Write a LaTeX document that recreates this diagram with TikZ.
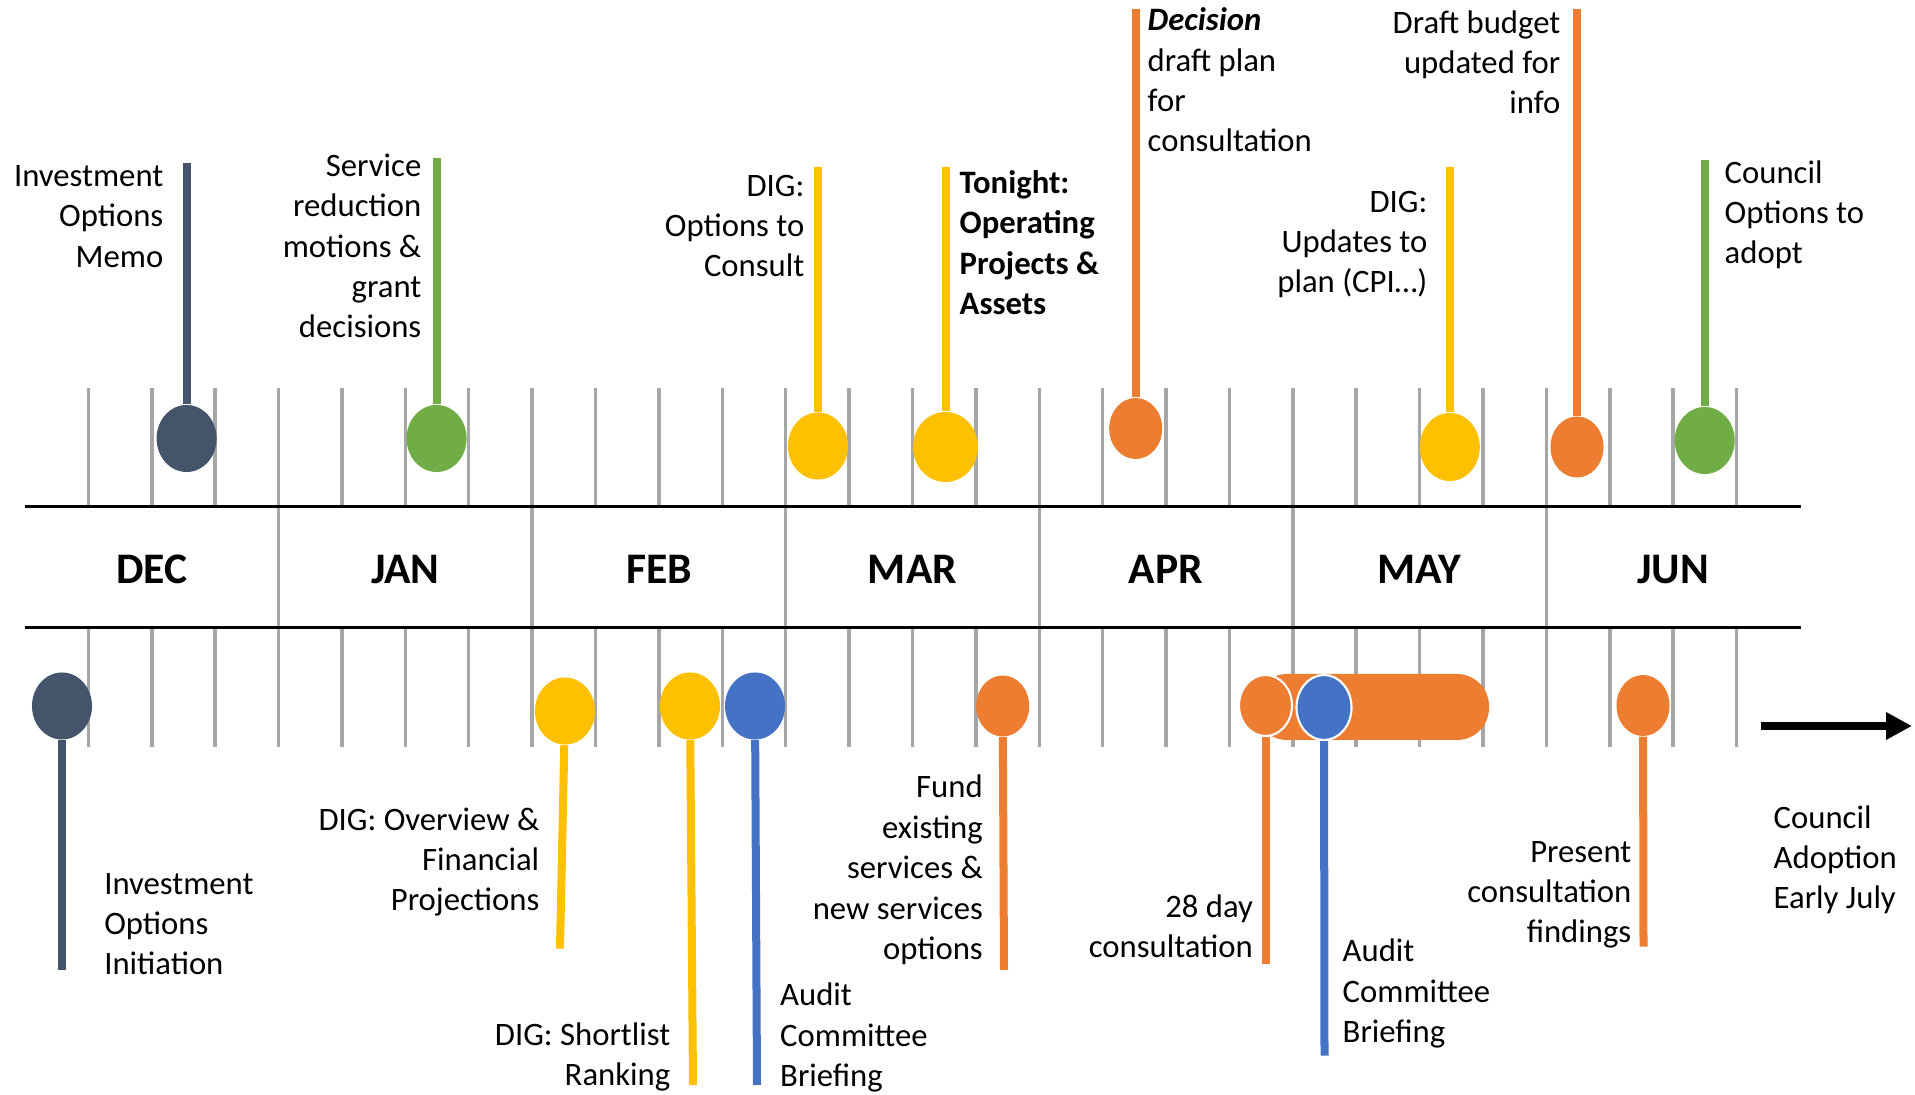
\documentclass[tikz,border=0pt]{standalone}
\usepackage{fontspec}
\setmainfont{Carlito}
\usepackage{tikz}
\usetikzlibrary{arrows.meta,shapes.geometric}

\definecolor{slate}{HTML}{44546A}
\definecolor{leaf}{HTML}{70AD47}
\definecolor{gold}{HTML}{FFC000}
\definecolor{tang}{HTML}{ED7D31}
\definecolor{azure}{HTML}{4472C4}
\definecolor{tickgray}{HTML}{A6A6A6}

\begin{document}
\begin{tikzpicture}[x=0.01cm,y=-0.01cm,
    weekline/.style={draw=tickgray,line width=0.035cm},
    axisline/.style={draw=black,line width=0.03cm},
    stem/.style={line width=0.08cm},
    bead/.style={ellipse,inner sep=0pt,minimum width=0.6cm,minimum height=0.67cm},
    sbead/.style={bead,minimum width=0.53cm,minimum height=0.61cm},
    ring/.style={draw=white,line width=0.6pt},
    txt/.style={inner sep=0pt,font=\fontsize{9.3}{11.5}\selectfont},
    txtR/.style={txt,align=right,anchor=base east},
    txtL/.style={txt,align=left,anchor=base west},
    txtB/.style={font=\fontsize{9.3}{11.5}\selectfont\bfseries},
    month/.style={inner sep=0pt,anchor=base,font=\fontsize{12.4}{14}\selectfont\bfseries}]
    \useasboundingbox (0,0) rectangle (1915,1095);

    \foreach \i in {1,...,27} {
      \draw[weekline] ({25+63.39*\i},388) -- ({25+63.39*\i},507);
      \draw[weekline] ({25+63.39*\i},628) -- ({25+63.39*\i},747);
    }
    \foreach \i in {4,8,...,24}
      \draw[weekline] ({25+63.39*\i},507) -- ({25+63.39*\i},628);
    \draw[axisline] (25,507) -- (1801,507);
    \draw[axisline] (25,628) -- (1801,628);
    \foreach \m [count=\k from 0] in {DEC,JAN,FEB,MAR,APR,MAY,JUN}
      \node[month] (\m) at ({25+63.39*(2+4*\k)},584) {\m};

    % above the line
    \node[bead,fill=slate] (memo) at (186.6,438.5) {};
    \node[bead,fill=leaf] (motions) at (436.6,438.5) {};
    \node[bead,fill=gold] (consult) at (818,446) {};
    \node[bead,fill=gold,minimum width=0.65cm,minimum height=0.7cm] (tonight) at (945.5,447) {};
    \node[sbead,fill=tang] (decision) at (1135.7,428.5) {};
    \node[bead,fill=gold,minimum height=0.68cm] (updates) at (1449.8,447) {};
    \node[sbead,fill=tang] (draft) at (1577,447) {};
    \node[bead,fill=leaf] (adopt) at (1704.7,440.5) {};

    \coordinate (memo-end) at (186.6,163);
    \coordinate (motions-end) at (436.6,158.5);
    \coordinate (consult-end) at (818,167);
    \coordinate (tonight-end) at (945.5,167);
    \coordinate (decision-end) at (1135.7,9.3);
    \coordinate (updates-end) at (1449.8,167);
    \coordinate (draft-end) at (1577,9.3);
    \coordinate (adopt-end) at (1704.7,160);

    \draw[stem,slate] (memo) -- (memo-end);
    \draw[stem,leaf] (motions) -- (motions-end);
    \draw[stem,gold] (consult) -- (consult-end);
    \draw[stem,gold] (tonight) -- (tonight-end);
    \draw[stem,tang] (decision) -- (decision-end);
    \draw[stem,gold] (updates) -- (updates-end);
    \draw[stem,tang] (draft) -- (draft-end);
    \draw[stem,leaf] (adopt) -- (adopt-end);

    % labels sit on the baseline of their last line
    \node[txtR] (memo-txt) at (164,267.4) {Investment\\Options\\Memo};
    \node[txtR] (motions-txt) at (422,338) {Service\\reduction\\motions \&\\grant\\decisions};
    \node[txtR] (consult-txt) at (805,277) {DIG:\\Options to\\Consult};
    \node[txtL,txtB] (tonight-txt) at (959,314.5) {Tonight:\\Operating\\Projects \&\\Assets};
    \node[txtL] (decision-txt) at (1147,152) {\textbf{\textit{Decision}}\\draft plan\\for\\consultation};
    \node[txtR] (updates-txt) at (1428,293) {DIG:\\Updates to\\plan (CPI…)};
    \node[txtR] (draft-txt) at (1561,114) {Draft budget\\updated for\\info};
    \node[txtL] (adopt-txt) at (1724,264) {Council\\Options to\\adopt};

    % below the line
    \fill[tang,rounded corners=0.32cm] (1255,674) rectangle (1489,740);
    \node[bead,fill=slate] (initiation) at (62,706) {};
    \node[bead,fill=gold] (overview) at (565,711) {};
    \node[bead,fill=gold] (shortlist) at (690,706) {};
    \node[bead,fill=azure] (audit1) at (755,706) {};
    \node[sbead,fill=tang] (fund) at (1002.7,706) {};
    \node[sbead,fill=tang,ring] (consultation) at (1265.5,705.5) {};
    \node[bead,fill=azure,ring,minimum width=0.55cm,minimum height=0.65cm] (audit2) at (1324,707.5) {};
    \node[sbead,fill=tang] (present) at (1643,705.5) {};

    \coordinate (initiation-end) at (62,970);
    \coordinate (overview-end) at (560,948.6);
    \coordinate (shortlist-end) at (693,1085);
    \coordinate (audit1-end) at (757,1085);
    \coordinate (fund-end) at (1004,970);
    \coordinate (consultation-end) at (1265.5,964);
    \coordinate (audit2-end) at (1324.5,1055.7);
    \coordinate (present-end) at (1643.5,946.7);

    \draw[stem,slate] (initiation) -- (initiation-end);
    \draw[stem,gold] (overview) -- (overview-end);
    \draw[stem,gold] (shortlist) -- (shortlist-end);
    \draw[stem,azure] (audit1) -- (audit1-end);
    \draw[stem,tang] (fund) -- (fund-end);
    \draw[stem,tang] (consultation) -- (consultation-end);
    \draw[stem,azure] (audit2) -- (audit2-end);
    \draw[stem,tang] (present) -- (present-end);

    \node[txtL] (initiation-txt) at (103.6,975) {Investment\\Options\\Initiation};
    \node[txtR] (overview-txt) at (540,911) {DIG: Overview \&\\Financial\\Projections};
    \node[txtR] (shortlist-txt) at (671,1085.5) {DIG: Shortlist\\Ranking};
    \node[txtL] (audit1-txt) at (779.5,1086.5) {Audit\\Committee\\Briefing};
    \node[txtR] (fund-txt) at (983.5,959.6) {Fund\\existing\\services \&\\new services\\options};
    \node[txtR] (consultation-txt) at (1253.6,957.5) {28 day\\consultation};
    \node[txtL] (audit2-txt) at (1342,1042.6) {Audit\\Committee\\Briefing};
    \node[txtR] (present-txt) at (1632,943) {Present\\consultation\\findings};
    \node[txtL] (july-txt) at (1773,909) {Council\\Adoption\\Early July};

    \coordinate (july-from) at (1761,726);
    \coordinate (july-to) at (1912,726);
    \draw[-{Triangle[length=0.26cm,width=0.26cm]},line width=0.08cm] (july-from) -- (july-to);
\end{tikzpicture}
\end{document}
